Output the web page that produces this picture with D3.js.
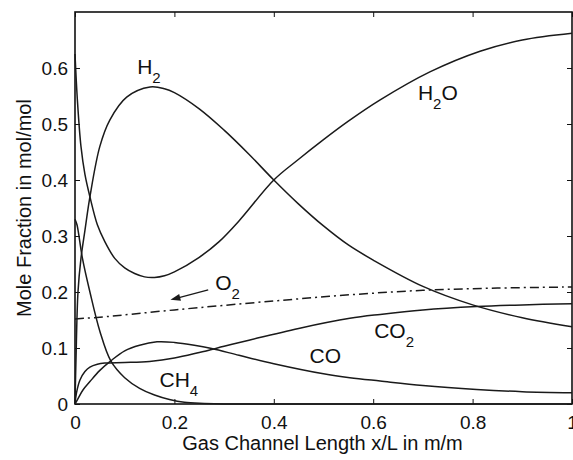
<!DOCTYPE html>
<html>
<head>
<meta charset="utf-8">
<script src="https://cdn.jsdelivr.net/npm/d3@7"></script>
<style>
  body { margin: 0; background: #fff; }
  text { font-family: "Liberation Sans", Arial, sans-serif; fill: #111; }
</style>
</head>
<body>
<div id="chart"></div>
<script>
// mole fractions along the channel, [x/L, value]
const h2 = [[0,0],[0.002,0.08],[0.006,0.2],[0.012,0.26],[0.02,0.31],[0.03,0.37],[0.05,0.46],[0.07,0.507],
  [0.104,0.548],[0.151,0.566],[0.18,0.563],[0.2,0.556],[0.25,0.527],[0.3,0.489],[0.35,0.446],[0.4,0.4],
  [0.45,0.357],[0.5,0.318],[0.55,0.284],[0.6,0.257],[0.7,0.21],[0.8,0.177],[0.9,0.154],[1,0.138]]
const h2o = [[0,0.625],[0.005,0.54],[0.012,0.46],[0.02,0.41],[0.03,0.37],[0.045,0.32],[0.06,0.29],[0.08,0.26],
  [0.1,0.243],[0.12,0.233],[0.14,0.227],[0.16,0.226],[0.18,0.229],[0.2,0.236],[0.25,0.262],[0.29,0.29],
  [0.332,0.329],[0.4,0.4],[0.45,0.437],[0.5,0.472],[0.55,0.505],[0.614,0.543],[0.714,0.593],[0.815,0.63],
  [0.9,0.65],[1,0.662]]
const ch4 = [[0,0.33],[0.004,0.32],[0.015,0.26],[0.03,0.2],[0.05,0.13],[0.072,0.077],[0.1,0.047],[0.13,0.028],
  [0.16,0.016],[0.19,0.008],[0.22,0.003],[0.26,0.001],[0.3,0],[0.5,0],[0.8,0],[1,0]]
const co = [[0,0],[0.005,0.008],[0.016,0.025],[0.03,0.04],[0.05,0.06],[0.072,0.077],[0.1,0.095],[0.13,0.105],
  [0.165,0.111],[0.2,0.11],[0.24,0.105],[0.275,0.099],[0.33,0.087],[0.4,0.072],[0.5,0.054],[0.553,0.047],
  [0.614,0.041],[0.7,0.033],[0.808,0.026],[0.9,0.022],[1,0.02]]
const co2 = [[0,0],[0.003,0.02],[0.01,0.043],[0.02,0.058],[0.03,0.066],[0.045,0.071],[0.06,0.073],[0.1,0.074],
  [0.15,0.076],[0.2,0.082],[0.25,0.092],[0.3,0.103],[0.35,0.114],[0.45,0.135],[0.553,0.153],[0.614,0.16],
  [0.7,0.168],[0.808,0.174],[0.9,0.177],[1,0.179]]
const o2 = [[0,0.152],[0.05,0.155],[0.2,0.168],[0.4,0.184],[0.553,0.195],[0.7,0.203],[0.85,0.207],[1,0.209]]

const xTicks = [0, 0.2, 0.4, 0.6, 0.8, 1]
const xTickLabels = ["0", "0.2", "0.4", "0.6", "0.8", "1"]
const yTicks = [0, 0.1, 0.2, 0.3, 0.4, 0.5, 0.6]
const yTickLabels = ["0", "0.1", "0.2", "0.3", "0.4", "0.5", "0.6"]

const margin = {top: 12, right: 1, bottom: 56, left: 75},
  width = 573 - margin.left - margin.right,
  height = 460 - margin.top - margin.bottom;

const svg = d3.select("#chart")
.append("svg")
  .attr("width", 573)
  .attr("height", 460)
.append("g")
  .attr("transform", "translate(" + margin.left + "," + margin.top + ")");

const x = d3.scaleLinear().domain([0, 1]).range([0, width])
const y = d3.scaleLinear().domain([0, 0.7]).range([height, 0])

// axes with inward ticks on all four sides
svg.append("g")
  .attr("transform", "translate(0," + height + ")")
  .call(d3.axisBottom(x).tickValues(xTicks).tickSizeInner(-5).tickSizeOuter(0).tickPadding(12)
    .tickFormat((d, i) => xTickLabels[i]))
svg.append("g")
  .call(d3.axisLeft(y).tickValues(yTicks).tickSizeInner(-5).tickSizeOuter(0).tickPadding(7)
    .tickFormat((d, i) => yTickLabels[i]))
svg.append("g")
  .call(d3.axisTop(x).tickValues(xTicks).tickSizeInner(-5).tickSizeOuter(0).tickFormat(""))
svg.append("g")
  .attr("transform", "translate(" + width + ",0)")
  .call(d3.axisRight(y).tickValues(yTicks).tickSizeInner(-5).tickSizeOuter(0).tickFormat(""))

svg.selectAll(".tick text").style("font-size", "19px").style("font-family", null)
svg.selectAll(".tick line").attr("stroke", "#111").attr("stroke-width", 1)
svg.selectAll(".domain").remove()

svg.append("rect")
  .attr("width", width).attr("height", height)
  .attr("fill", "none").attr("stroke", "#111").attr("stroke-width", 1.6)

const line = d3.line()
  .x(d => x(d[0]))
  .y(d => y(d[1]))
  .curve(d3.curveCatmullRom.alpha(0.5))

const series = [h2, h2o, ch4, co, co2]
svg.selectAll(".curve")
  .data(series)
  .enter()
  .append("path")
    .attr("class", "curve")
    .attr("d", line)
    .attr("fill", "none")
    .attr("stroke", "#1a1a1a")
    .attr("stroke-width", 1.5)

svg.append("path")
  .attr("d", line(o2))
  .attr("fill", "none")
  .attr("stroke", "#1a1a1a")
  .attr("stroke-width", 1.5)
  .attr("stroke-dasharray", "9,4,2,4")

// arrow pointing at the O2 curve
const ax0 = x(0.268), ay0 = y(0.204), ax1 = x(0.192), ay1 = y(0.186)
const ang = Math.atan2(ay1 - ay0, ax1 - ax0)
svg.append("line")
  .attr("x1", ax0).attr("y1", ay0)
  .attr("x2", ax1 - 6 * Math.cos(ang)).attr("y2", ay1 - 6 * Math.sin(ang))
  .attr("stroke", "#1a1a1a").attr("stroke-width", 1.3)
const hl = 10, hw = 3.5
svg.append("path")
  .attr("d", "M" + ax1 + "," + ay1 +
    "L" + (ax1 - hl * Math.cos(ang) + hw * Math.sin(ang)) + "," + (ay1 - hl * Math.sin(ang) - hw * Math.cos(ang)) +
    "L" + (ax1 - hl * Math.cos(ang) - hw * Math.sin(ang)) + "," + (ay1 - hl * Math.sin(ang) + hw * Math.cos(ang)) + "Z")
  .attr("fill", "#1a1a1a")

// curve labels: [main, subscript, tail, x, y]
const curveLabels = [
  ["H", "2", "", 0.125, 0.59],
  ["H", "2", "O", 0.69, 0.543],
  ["O", "2", "", 0.282, 0.203],
  ["CH", "4", "", 0.17, 0.03],
  ["CO", "", "", 0.472, 0.074],
  ["CO", "2", "", 0.602, 0.118]
]
curveLabels.forEach(l => {
  const t = svg.append("text")
    .attr("x", x(l[3])).attr("y", y(l[4]))
    .style("font-size", "21px")
  t.append("tspan").text(l[0])
  if (l[1]) t.append("tspan").attr("dy", 9).style("font-size", "15px").text(l[1])
  if (l[2]) t.append("tspan").attr("dy", -9).text(l[2])
})

svg.append("text")
  .attr("x", width / 2 - 1).attr("y", height + 46)
  .attr("text-anchor", "middle")
  .style("font-size", "20px")
  .text("Gas Channel Length x/L in m/m")

svg.append("text")
  .attr("transform", "translate(-44," + (height / 2) + ") rotate(-90)")
  .attr("text-anchor", "middle")
  .style("font-size", "20px")
  .text("Mole Fraction in mol/mol")
</script>
</body>
</html>
